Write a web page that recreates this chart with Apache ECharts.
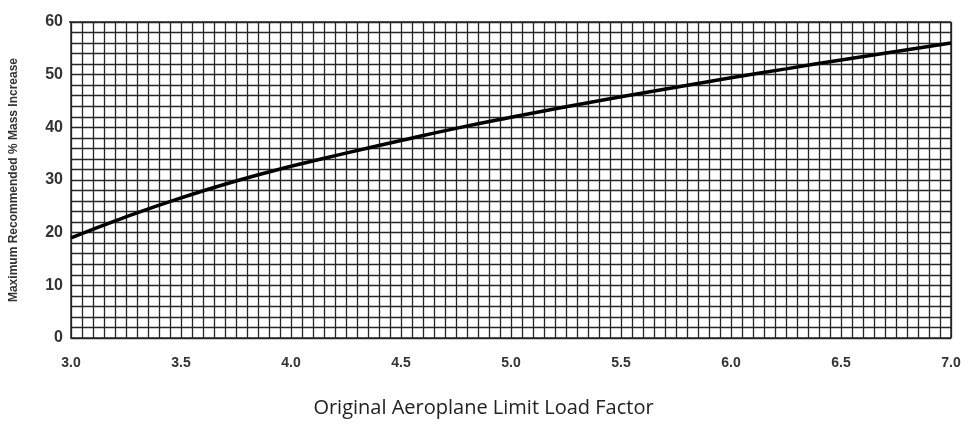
<!DOCTYPE html>
<html lang="en">
<head>
	<meta charset="UTF-8">
	<title>Mass Increase</title>
	<script src="https://cdn.jsdelivr.net/npm/echarts@6/dist/echarts.min.js"></script>
	<style>
		body { margin: 0; background: #fff; }
	</style>
</head>
<body>
	<div id="chart" style="width: 967px; height: 434px;"></div>
	<script type="text/javascript">
		// load factor (x) vs max recommended % mass increase (y)
		const loadFactor = [3.0, 3.25, 3.5, 3.75, 4.0, 4.25, 4.5, 4.75, 5.0, 5.25, 5.5, 5.75, 6.0, 6.25, 6.5, 6.75, 7.0];
		const massIncrease = [19.0, 23.0, 26.6, 29.8, 32.6, 35.1, 37.5, 39.8, 41.9, 43.9, 45.8, 47.6, 49.4, 51.1, 52.8, 54.4, 56.0];
		const xTicks = ['3.0', '3.5', '4.0', '4.5', '5.0', '5.5', '6.0', '6.5', '7.0'];

		const chart = echarts.init(document.getElementById('chart'));

		const gridLine = { color: '#262626', width: 1.3 };
		const tickFont = { fontFamily: 'Liberation Sans', fontWeight: 'bold', fontSize: 14, color: '#333' };

		chart.setOption({
			backgroundColor: '#ffffff',
			animation: false,
			grid: { left: 69, right: 16, top: 22, bottom: 96 },
			xAxis: {
				type: 'value',
				min: 3,
				max: 7,
				interval: 0.5,
				axisLine: { show: true, onZero: false, lineStyle: { color: '#262626', width: 1.5 } },
				axisTick: { show: false },
				splitLine: { show: true, lineStyle: gridLine },
				minorTick: { show: false, splitNumber: 10 },
				minorSplitLine: { show: true, lineStyle: gridLine },
				axisLabel: Object.assign({
					margin: 18,
					formatter: (v) => xTicks[Math.round((v - 3) * 2)]
				}, tickFont)
			},
			yAxis: {
				type: 'value',
				min: 0,
				max: 60,
				interval: 10,
				name: 'Maximum Recommended % Mass Increase',
				nameLocation: 'middle',
				nameGap: 51,
				nameTextStyle: { fontFamily: 'Liberation Sans', fontWeight: 'bold', fontSize: 12, color: '#333' },
				axisLine: { show: true, lineStyle: { color: '#262626', width: 1.5 } },
				axisTick: { show: false },
				splitLine: { show: true, lineStyle: gridLine },
				minorTick: { show: false, splitNumber: 5 },
				minorSplitLine: { show: true, lineStyle: gridLine },
				axisLabel: Object.assign({ margin: 8 }, tickFont, { fontSize: 16 })
			},
			graphic: [{
				type: 'text',
				left: 'center',
				top: 398,
				style: {
					text: 'Original Aeroplane Limit Load Factor',
					font: '20px "Open Sans", "Noto Sans", sans-serif',
					fill: '#222'
				}
			}, {
				// right border of the plot
				type: 'line',
				shape: { x1: 951, y1: 22, x2: 951, y2: 338 },
				style: { stroke: '#262626', lineWidth: 1.5 }
			}, {
				type: 'line',
				shape: { x1: 69, y1: 22, x2: 951, y2: 22 },
				style: { stroke: '#262626', lineWidth: 1.5 }
			}],
			series: [{
				type: 'line',
				data: loadFactor.map((x, i) => [x, massIncrease[i]]),
				smooth: true,
				symbol: 'none',
				lineStyle: { color: '#000', width: 3.5 }
			}]
		});
	</script>
</body>
</html>
